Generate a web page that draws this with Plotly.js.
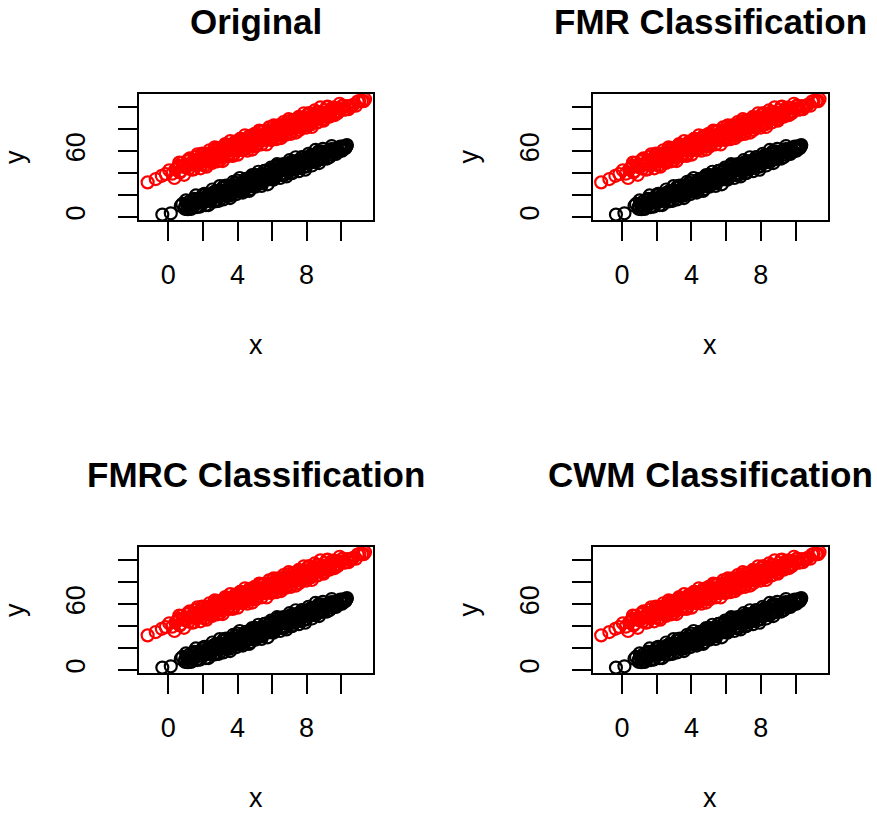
<!DOCTYPE html>
<html><head><meta charset="utf-8">
<script src="https://cdn.plot.ly/plotly-3.0.1.min.js"></script>
<style>html,body{margin:0;padding:0;background:#fff}</style>
</head><body><div id="chart" style="width:877px;height:814px"></div>
<script>
const panelTitles = ["Original", "FMR Classification", "FMRC Classification", "CWM Classification"];
const xAxisLabel = "x";
const yAxisLabel = "y";
const xTickVals = [0, 2, 4, 6, 8, 10];
const xTickText = ["0", "", "4", "", "8", ""];
const yTickVals = [0, 20, 40, 60, 80, 100];
const yTickText = ["0", "", "", "60", "", ""];

const blackX = [-0.35,0.14,0.72,0.81,0.95,1.08,1.17,1.26,1.37,1.45,
1.55,1.63,1.72,1.80,1.88,1.97,2.05,2.13,2.20,2.28,
2.36,2.43,2.51,2.58,2.66,2.73,2.80,2.88,2.95,3.02,
3.10,3.16,3.22,3.30,3.37,3.45,3.51,3.58,3.63,3.72,
3.79,3.87,3.93,4.00,4.06,4.14,4.21,4.29,4.35,4.42,
4.48,4.56,4.63,4.71,4.77,4.84,4.90,4.98,5.05,5.13,
5.19,5.26,5.32,5.40,5.47,5.55,5.61,5.68,5.74,5.82,
5.89,5.97,6.03,6.10,6.16,6.24,6.31,6.39,6.45,6.52,
6.58,6.66,6.73,6.80,6.88,6.95,7.03,7.10,7.18,7.26,
7.33,7.41,7.49,7.57,7.65,7.73,7.82,7.90,7.99,8.08,
8.17,8.26,8.36,8.46,8.56,8.67,8.78,8.90,9.02,9.15,
9.28,9.42,9.56,9.75,9.88,10.02,10.13,10.20,10.28,10.33,
1.02,1.31,1.59,1.84,2.09,2.32,2.55,2.76,2.97,3.18,
3.38,3.57,3.76,3.95,4.13,4.31,4.49,4.67,4.85,5.03,
5.21,5.39,5.57,5.75,5.93,6.11,6.29,6.47,6.65,6.83,
7.01,7.19,7.37,7.55,7.73,7.92,8.11,8.31,8.51,8.72,
8.94,9.18,9.45,9.70,9.95,2.45,2.85,3.28,3.66,4.05,
4.40,4.75,5.10,5.45,5.80,6.20,6.55,6.90,7.25,7.60,
8.00,8.40,8.85,1.70,3.00,4.25,5.35,6.40,7.45,8.25,
5.65,4.95,6.00,3.85,7.15,2.20,8.60,9.30,1.45,5.00,
0.98,1.12,1.22,1.41,1.50,1.66,1.76,1.93,2.01,2.16,
2.24,2.40,2.48,2.62,2.70,2.84,2.92,3.05,3.13,3.26,
3.34,3.48,3.55,3.68,3.75,3.90,3.98,4.10,4.18,4.33,
4.40,4.53,4.60,4.74,4.81,4.94,5.02,5.15,5.23,5.36,
5.44,5.58,5.66,5.78,5.86,5.99,6.07,6.20,6.28,6.42,
6.49,6.62,6.70,6.84,6.92,7.06,7.14,7.28,7.36,7.50,
7.59,7.70,7.79,7.93,8.03,8.14,8.22,8.34,8.44,8.53,
8.63,8.75,8.84,8.97,9.08,9.20,9.33,9.47,9.60,9.66,
9.80,9.93,10.05,10.16,10.24,10.30,1.30,2.55,3.80,5.50];
const blackY = [2.2,3.4,10.3,11.9,7.5,11.6,10.4,8.3,12.8,15.1,
11.5,13.7,10.2,16.3,14.1,16.0,19.6,13.9,16.8,16.2,
20.0,14.9,19.1,17.4,22.6,19.6,15.6,22.1,20.0,23.3,
20.1,27.2,22.0,24.2,20.7,24.5,27.2,20.9,24.9,27.3,
24.7,30.7,24.5,27.7,29.1,22.8,31.2,28.3,30.2,27.7,
33.7,30.7,27.9,32.8,31.0,37.6,31.1,35.3,33.3,30.5,
36.0,33.7,38.3,31.0,36.3,38.9,35.1,38.4,35.0,41.9,
38.7,38.0,41.3,35.9,41.2,39.3,46.8,41.1,43.3,39.5,
45.5,43.6,38.6,45.7,43.8,47.4,43.3,46.5,43.1,50.8,
46.3,48.9,45.7,51.9,49.0,48.0,52.2,46.4,51.9,51.2,
55.1,49.8,53.9,55.6,52.7,59.6,55.1,53.0,58.6,58.1,
56.7,61.9,59.2,60.4,59.8,64.1,63.5,64.6,64.1,65.6,
15.2,7.4,19.7,9.5,21.1,10.9,25.1,14.4,28.2,16.1,
28.6,17.3,32.1,20.9,35.6,22.3,34.9,23.7,38.3,27.7,
41.3,28.4,42.1,29.8,45.0,34.6,48.2,35.6,48.3,37.0,
51.8,40.5,54.5,41.8,54.6,43.1,57.7,47.0,61.2,49.2,
62.1,53.3,64.7,57.6,64.2,14.7,23.4,20.2,27.7,23.5,
31.8,28.6,37.1,33.5,40.9,36.8,44.3,41.8,50.4,45.4,
53.8,51.3,59.1,14.7,19.2,30.8,33.9,43.3,45.7,53.9,
35.9,34.9,37.5,27.2,45.1,18.8,52.3,60.5,10.3,33.9,
9.8,7.1,14.1,10.2,16.6,9.1,15.8,13.9,20.5,10.9,
17.9,20.6,15.7,14.1,23.3,20.6,14.8,24.1,21.4,28.5,
19.8,25.0,19.4,28.5,25.7,23.9,33.1,26.1,24.1,31.5,
33.8,26.7,30.6,25.4,35.8,31.5,38.4,31.1,36.0,30.9,
37.9,42.2,36.1,34.3,42.9,39.7,34.1,43.2,38.6,42.0,
47.1,38.2,45.0,43.0,41.8,49.9,40.0,47.7,50.5,46.3,
44.9,54.1,50.0,45.9,53.8,51.2,56.3,50.6,55.5,50.1,
57.6,53.6,59.9,53.8,58.2,60.2,54.8,61.1,57.7,62.1,
60.4,63.5,60.5,63.5,62.8,64.6,8.0,21.8,22.5,38.8];

const redX = [-1.20,-0.73,-0.38,-0.15,0.05,0.22,0.41,0.58,0.70,0.86,
0.97,1.10,1.18,1.31,1.42,1.50,1.63,1.71,1.80,1.92,
2.01,2.09,2.17,2.26,2.33,2.41,2.50,2.57,2.66,2.72,
2.81,2.89,2.95,3.04,3.11,3.18,3.27,3.33,3.40,3.48,
3.55,3.61,3.70,3.77,3.84,3.90,3.98,4.05,4.12,4.19,
4.26,4.31,4.39,4.46,4.52,4.60,4.67,4.73,4.80,4.88,
4.94,5.01,5.08,5.15,5.21,5.29,5.36,5.42,5.50,5.57,
5.63,5.71,5.78,5.85,5.91,5.99,6.06,6.13,6.20,6.28,
6.35,6.41,6.49,6.57,6.63,6.72,6.80,6.87,6.95,7.03,
7.11,7.20,7.28,7.36,7.45,7.53,7.62,7.71,7.80,7.90,
8.01,8.10,8.21,8.33,8.44,8.56,8.69,8.81,8.95,9.10,
9.24,9.40,9.57,9.75,9.96,10.18,10.42,10.62,11.05,11.38,
0.35,0.63,0.91,1.24,1.46,1.68,1.86,2.04,2.21,2.38,
2.53,2.69,2.84,2.99,3.14,3.29,3.43,3.58,3.72,3.86,
4.01,4.15,4.29,4.43,4.57,4.71,4.85,4.99,5.12,5.26,
5.40,5.54,5.68,5.82,5.96,6.10,6.24,6.38,6.52,6.66,
6.81,6.96,7.10,7.24,7.39,7.54,7.69,7.84,7.99,8.14,
8.30,8.47,8.63,8.80,8.98,9.17,9.35,9.55,9.80,10.05,
2.20,2.90,3.50,3.95,4.40,4.83,5.25,5.66,6.05,6.46,
6.90,7.30,7.70,8.10,8.50,3.20,4.60,5.90,7.00,2.60,
0.52,0.66,0.79,1.03,1.15,1.37,1.55,1.77,1.95,2.13,
2.24,2.36,2.47,2.62,2.77,2.86,3.00,3.08,3.22,3.36,
3.45,3.52,3.66,3.80,3.93,4.09,4.17,4.34,4.49,4.56,
4.64,4.76,4.91,5.04,5.18,5.32,5.46,5.60,5.69,5.81,
5.95,6.02,6.17,6.26,6.33,6.44,6.55,6.68,6.77,6.84,
6.99,7.07,7.16,7.33,7.42,7.50,7.58,7.67,7.76,7.87,
7.95,8.06,8.18,8.27,8.39,8.52,8.60,8.74,8.86,8.92,
9.05,9.14,9.21,9.32,9.46,9.52,9.63,9.70,9.83,9.91,
10.00,10.10,10.25,10.35,10.50,10.70,10.85,10.95,11.20,11.30];
const redY = [31.6,34.6,37.6,39.2,42.6,39.5,43.4,46.6,41.6,46.6,
45.3,50.8,44.1,48.6,50.5,47.5,54.9,49.4,52.6,47.8,
52.5,55.4,50.8,53.3,57.6,55.6,50.6,56.2,58.4,55.1,
62.9,56.7,59.2,55.3,62.0,59.3,57.9,64.6,60.0,62.8,
58.0,64.3,62.7,56.8,64.2,67.3,63.1,66.4,62.3,65.7,
70.4,64.6,67.9,62.9,69.9,67.6,67.1,73.9,66.8,70.3,
72.8,65.4,70.8,73.1,69.7,78.1,72.0,74.2,69.9,74.3,
76.5,72.0,78.8,74.4,76.8,70.8,78.9,76.9,75.8,81.2,
77.8,80.3,76.1,83.8,80.4,78.4,82.8,77.2,82.8,85.2,
82.2,80.7,88.7,84.6,83.6,87.5,82.3,87.8,86.2,91.2,
86.0,89.3,84.7,92.6,90.6,89.6,95.4,92.0,95.1,91.6,
95.0,98.5,94.7,99.3,98.3,97.9,98.4,101.5,105.8,107.4,
35.6,49.6,38.5,53.6,43.4,57.2,44.4,57.2,45.9,60.9,
49.3,63.6,50.8,62.8,51.0,66.6,55.5,69.2,55.7,68.7,
56.9,71.2,60.9,74.5,60.5,74.0,61.5,75.9,65.4,78.9,
66.3,78.4,66.2,81.7,70.2,83.6,71.0,83.7,72.0,86.5,
75.1,89.2,75.9,88.5,77.0,91.3,81.1,94.6,81.6,94.7,
82.1,97.2,86.3,100.0,87.9,100.3,91.6,99.8,95.0,101.3,
56.2,53.9,63.6,60.9,70.1,65.9,73.7,71.6,79.7,74.9,
84.3,81.8,89.8,85.3,93.5,56.5,71.8,71.3,83.8,54.0,
45.0,40.6,49.4,45.6,52.2,43.3,52.0,48.5,57.8,47.2,
54.2,58.1,53.1,51.4,61.1,58.8,52.0,60.9,59.1,66.0,
57.1,61.6,56.8,65.8,64.9,61.9,71.3,65.0,62.4,69.5,
72.7,64.8,69.8,64.3,74.8,70.5,77.9,70.7,75.0,70.8,
78.3,82.1,76.5,74.6,82.3,79.6,73.9,83.4,78.7,81.2,
87.5,77.7,85.0,83.2,82.2,89.8,79.3,87.4,90.2,86.0,
83.8,93.4,89.7,84.6,93.2,91.0,95.8,90.4,94.9,89.1,
97.4,93.2,100.7,92.8,97.2,99.6,93.0,99.4,96.3,103.3,
98.9,101.3,98.2,101.2,100.6,102.4,101.5,105.3,105.7,105.7];

const W = 877, H = 814;
const colLeft = [[139, 373], [592.5, 827.5]];
const rowTop = [[94, 220], [547, 673]];
const font = "Liberation Sans, Arial, Helvetica, sans-serif";

const traces = [];
const layout = {
  width: W, height: H,
  margin: {l: 0, r: 0, t: 0, b: 0},
  paper_bgcolor: "#fff", plot_bgcolor: "#fff",
  showlegend: false,
  font: {family: font, color: "#000"},
  annotations: []
};

for (let i = 0; i < 4; i++) {
  const c = i % 2, r = Math.floor(i / 2);
  const sfx = i === 0 ? "" : String(i + 1);
  const xd = [colLeft[c][0] / W, colLeft[c][1] / W];
  const yd = [1 - rowTop[r][1] / H, 1 - rowTop[r][0] / H];
  const common = {
    ticks: "outside", ticklen: 19, tickwidth: 2, tickcolor: "#000",
    showline: true, mirror: true, linewidth: 2, linecolor: "#000",
    showgrid: false, zeroline: false, fixedrange: true,
    tickmode: "array",
    tickfont: {family: font, size: 27, color: "#000"}
  };
  layout["xaxis" + sfx] = Object.assign({}, common, {
    domain: xd, anchor: "y" + sfx, range: [-1.70, 11.84],
    tickvals: xTickVals, ticktext: xTickText, ticklabelstandoff: 11
  });
  layout["yaxis" + sfx] = Object.assign({}, common, {
    domain: yd, anchor: "x" + sfx, range: [-2.73, 112.2],
    tickvals: yTickVals, ticktext: yTickText, tickangle: -90, ticklabelstandoff: 22
  });
  const mk = (col) => ({symbol: "circle-open", size: 12, color: col, line: {width: 2.2, color: col}});
  traces.push({x: blackX, y: blackY, xaxis: "x" + sfx, yaxis: "y" + sfx, type: "scatter", mode: "markers", marker: mk("#000000"), hoverinfo: "skip"});
  traces.push({x: redX, y: redY, xaxis: "x" + sfx, yaxis: "y" + sfx, type: "scatter", mode: "markers", marker: mk("#FF0000"), hoverinfo: "skip"});

  const cx = (colLeft[c][0] + colLeft[c][1]) / 2;
  const off = r * 453;
  layout.annotations.push({text: "<b>" + panelTitles[i] + "</b>", xref: "paper", yref: "paper",
    x: cx / W, y: 1 - (21 + off) / H, xanchor: "center", yanchor: "middle", showarrow: false,
    font: {family: font, size: 35, color: "#000"}});
  layout.annotations.push({text: xAxisLabel, xref: "paper", yref: "paper",
    x: cx / W, y: 1 - (345 + off) / H, xanchor: "center", yanchor: "middle", showarrow: false,
    font: {family: font, size: 27, color: "#000"}});
  layout.annotations.push({text: yAxisLabel, xref: "paper", yref: "paper",
    x: (15 + c * 453.5) / W, y: 1 - ((rowTop[r][0] + rowTop[r][1]) / 2) / H, xanchor: "center", yanchor: "middle",
    textangle: -90, showarrow: false, font: {family: font, size: 27, color: "#000"}});
}

Plotly.newPlot("chart", traces, layout, {staticPlot: true, displayModeBar: false});
</script></body></html>
